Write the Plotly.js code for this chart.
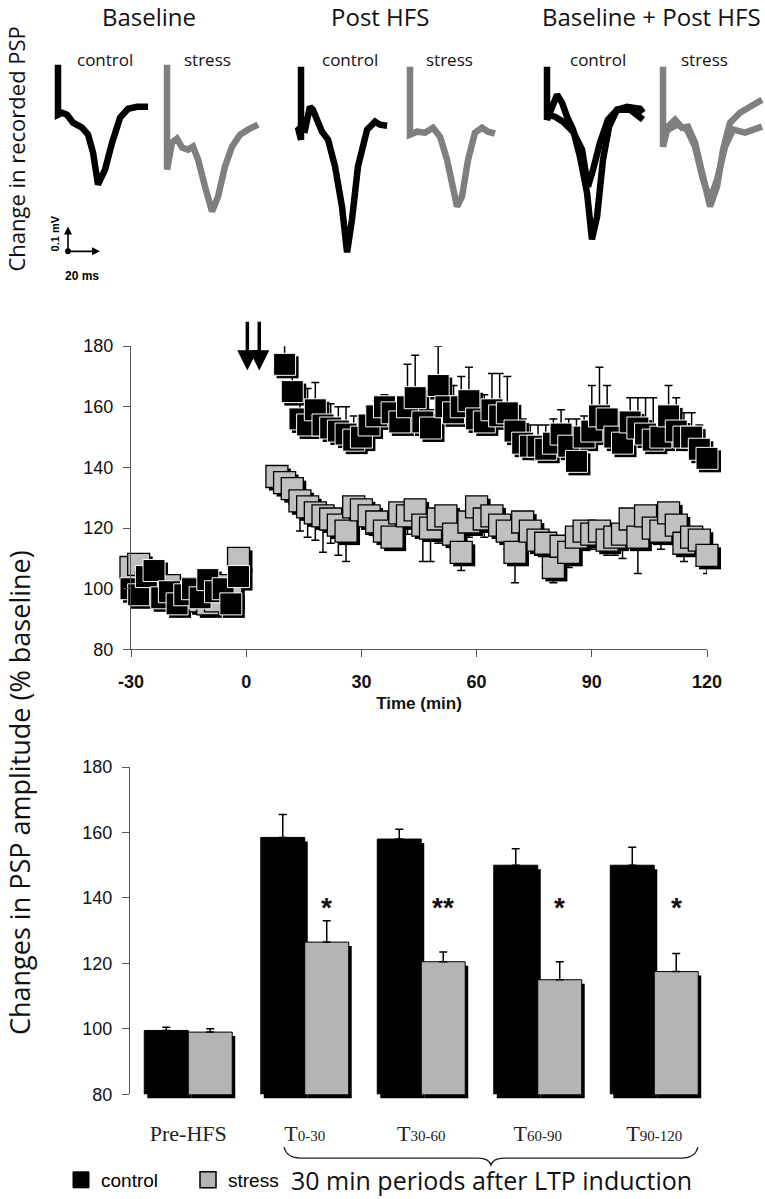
<!DOCTYPE html>
<html><head><meta charset="utf-8">
<script src="https://cdn.plot.ly/plotly-3.0.1.min.js"></script>
<style>html,body{margin:0;padding:0;background:#fff}#chart{width:765px;height:1199px}</style>
</head><body><div id="chart"></div>
<script>
// ================= DATA =================
// Time course (% baseline PSP amplitude)
const baseTime = [-30,-28,-26,-24,-22,-20,-18,-16,-14,-12,-10,-8,-6,-4,-2];
const controlBase = [100,98,104,106,97,99,95,98,100,97,103,99,100,95,104];
const controlBaseErr = [2,2,2,2,2,2,2,4,2,2,2,2,2,2,2];
const stressBase = [107,108,102,100,98,101,97,99,100,96,95,96,101,97,110];
const stressBaseErr = [2,2,2,2,2,2,2,2,2,2,2,2,2,2,2];

const controlPostTime = [10,12,14,16,18,20,22,24,26,28,30,32,34,36,38,40,42,44,46,48,50,52,54,56,58,60,62,64,66,68,70,72,74,76,78,80,82,84,86,88,90,92,94,96,98,100,102,104,106,108,110,112,114,116,118,120];
const controlPost = [174,165,156,154,159,154,153,152,151,149,150,154,157,160,158,155,160,163,155,153,167,160,158,160,162,156,155,159,157,158,152,148,147,147,146,148,151,147,142,150,152,157,156,150,148,155,153,151,149,150,157,152,150,150,146,143];
const controlPostErr = [10,5,8,12,9,7,8,8,9,8,6,6,5,4,5,6,14,14,9,6,13,8,9,10,11,8,9,12,14,12,7,8,7,7,8,8,8,9,14,7,15,16,11,6,8,8,10,12,14,6,10,11,8,8,8,5];

const stressPostTime = [8,10,12,14,16,18,20,22,24,26,28,30,32,34,36,38,40,42,44,46,48,50,52,54,56,58,60,62,64,66,68,70,72,74,76,78,80,82,84,86,88,90,92,94,96,98,100,102,104,106,108,110,112,114,116,118,120];
const stressPost = [137,135,133,129,127,125,124,123,121,119,127,126,124,122,119,117,125,124,126,121,120,123,124,118,112,122,127,123,124,121,119,112,122,119,116,115,107,114,112,117,119,118,119,116,117,118,123,117,124,120,119,125,121,115,117,116,111];
const stressPostErr = [3,4,5,10,10,9,12,8,10,10,5,5,6,5,4,4,5,6,8,12,11,8,6,5,6,5,5,6,5,5,6,10,5,5,5,8,5,4,5,6,5,5,6,5,6,8,5,12,5,5,6,4,5,6,5,5,6];

const hfsTimes = [0.3, 3.4];

// 30-min period means
const periods = ['Pre-HFS','T0-30','T30-60','T60-90','T90-120'];
const periodLabels = ['Pre-HFS','T<span style="font-size:15px">0-30</span>','T<span style="font-size:15px">30-60</span>','T<span style="font-size:15px">60-90</span>','T<span style="font-size:15px">90-120</span>'];
const controlMean = [99.5,158.5,158,150,150];
const controlSem = [1,7,3,5,5.5];
const stressMean = [99,126.5,120.5,115,117.5];
const stressSem = [1,6.5,3,5.5,5.5];
const significance = ['','*','**','*','*'];

// Recorded PSP traces (time ms, voltage mV)
const baseCtrlT = [5,5,7.5,10.6,14.4,20,23.8,26.9,30,34.4,38.8,43.8,48.8,54.4,61.3];
const baseCtrlV = [0.08,-0.12,-0.112,-0.12,-0.152,-0.172,-0.2,-0.272,-0.4,-0.34,-0.232,-0.132,-0.096,-0.088,-0.088];
const baseStressT = [4.4,4.4,7.5,10.6,13.8,17.5,20.6,23.8,28.1,32.5,36.3,40.6,45,50,55,61.3];
const baseStressV = [0.08,-0.34,-0.232,-0.216,-0.252,-0.26,-0.248,-0.3,-0.408,-0.508,-0.448,-0.328,-0.248,-0.2,-0.18,-0.16];
const postCtrlT = [5,5,3.1,7.5,10.6,12.5,15,18.1,21.9,26.3,30.6,33.8,36.9,40.6,46.3,51.3,54.4,58.8];
const postCtrlV = [0.072,-0.22,-0.172,-0.18,-0.088,-0.1,-0.14,-0.188,-0.22,-0.328,-0.488,-0.672,-0.54,-0.328,-0.18,-0.148,-0.16,-0.164];
const postStressT = [5,5,9.4,14.4,19.4,23.8,28.1,31.9,34.4,37.5,41.3,45.6,50,53.8,58.1];
const postStressV = [0.072,-0.2,-0.188,-0.192,-0.172,-0.208,-0.3,-0.432,-0.488,-0.448,-0.3,-0.192,-0.172,-0.188,-0.196];
const bpCtrlPostT = [5,5,11.3,14.4,17.5,21.3,25.6,30,33.1,36.3,40,43.8,48.8,55,63.1,65];
const bpCtrlPostV = [0.072,-0.14,-0.04,-0.072,-0.128,-0.18,-0.288,-0.432,-0.62,-0.528,-0.3,-0.168,-0.1,-0.088,-0.096,-0.112];
const bpCtrlBaseT = [5,10,15,21.3,26.9,30.6,33.8,38.1,43.1,48.8,56.9,65];
const bpCtrlBaseV = [-0.12,-0.128,-0.148,-0.188,-0.26,-0.408,-0.34,-0.232,-0.14,-0.1,-0.1,-0.14];
const bpStressPostT = [5,5,8.1,12.5,16.9,20.6,25,30,34.4,38.8,42.5,46.9,53.1,59.4,66.9];
const bpStressPostV = [0.072,-0.248,-0.168,-0.14,-0.172,-0.168,-0.232,-0.368,-0.488,-0.408,-0.26,-0.152,-0.112,-0.088,-0.06];
const bpStressBaseT = [5,8.1,13.8,20,25,30,34.4,38.8,43.8,48.8,56.3,66.9];
const bpStressBaseV = [-0.2,-0.18,-0.16,-0.18,-0.248,-0.38,-0.46,-0.38,-0.248,-0.18,-0.192,-0.168];
const scaleMs = 20, scaleMv = 0.1;
const scaleOriginT = 11.25, scaleOriginV = -0.668;

// ================= LAYOUT HELPERS =================
const W = 765, H = 1199;
const fx = p => p / W;
const fy = p => 1 - p / H;
const zeros = a => a.map(() => 0);
const SANS = 'Liberation Sans, Arial, sans-serif';
const MYR = 'Open Sans, Noto Sans, sans-serif';
const BLACK = '#000000', GREY_SQ = '#c0c0c0', GREY_BAR = '#b4b4b4', GREY_LINE = '#7f7f7f';

const ctrlT = baseTime.concat(controlPostTime);
const ctrlV = controlBase.concat(controlPost);
const ctrlE = controlBaseErr.concat(controlPostErr);
const strT = baseTime.concat(stressPostTime);
const strV = stressBase.concat(stressPost);
const strE = stressBaseErr.concat(stressPostErr);

const data = [];
const MS = 22;
// --- time course shadows (xy) ---
data.push({type:'scatter', mode:'markers', x:strT, y:strV, xaxis:'x', yaxis:'y', cliponaxis:false, showlegend:false, hoverinfo:'skip',
  marker:{symbol:'square', size:MS, color:BLACK, line:{width:0}}});
data.push({type:'scatter', mode:'markers', x:ctrlT, y:ctrlV, xaxis:'x', yaxis:'y', cliponaxis:false, showlegend:false, hoverinfo:'skip',
  marker:{symbol:'square', size:MS, color:BLACK, line:{width:0}}});
// --- time course main (x2y2) ---
data.push({type:'scatter', mode:'markers', name:'stress', x:strT, y:strV, xaxis:'x2', yaxis:'y2', cliponaxis:false, showlegend:false,
  marker:{symbol:'square', size:MS, color:GREY_SQ, line:{color:BLACK, width:1.3}},
  error_y:{type:'data', symmetric:false, array:zeros(strE), arrayminus:strE, color:BLACK, thickness:1.5, width:4}});
data.push({type:'scatter', mode:'markers', name:'control', x:ctrlT, y:ctrlV, xaxis:'x2', yaxis:'y2', cliponaxis:false, showlegend:false,
  marker:{symbol:'square', size:MS, color:BLACK, line:{color:'#ffffff', width:1}},
  error_y:{type:'data', symmetric:false, array:ctrlE, arrayminus:zeros(ctrlE), color:BLACK, thickness:1.5, width:4}});

// --- bar shadows (x3y3) ---
data.push({type:'bar', x:periods, y:controlMean, xaxis:'x3', yaxis:'y3', showlegend:false, hoverinfo:'skip', marker:{color:BLACK}});
data.push({type:'bar', x:periods, y:stressMean, xaxis:'x3', yaxis:'y3', showlegend:false, hoverinfo:'skip', marker:{color:BLACK}});
// --- bars main (x4y4) ---
data.push({type:'bar', name:'control', x:periods, y:controlMean, xaxis:'x4', yaxis:'y4', showlegend:false,
  marker:{color:BLACK, line:{color:BLACK, width:1}},
  error_y:{type:'data', symmetric:false, array:controlSem, arrayminus:zeros(controlSem), color:BLACK, thickness:1.5, width:4}});
data.push({type:'bar', name:'stress', x:periods, y:stressMean, xaxis:'x4', yaxis:'y4', showlegend:false,
  marker:{color:GREY_BAR, line:{color:BLACK, width:1}},
  error_y:{type:'data', symmetric:false, array:stressSem, arrayminus:zeros(stressSem), color:BLACK, thickness:1.5, width:4}});
// legend entries
data.push({type:'scatter', mode:'markers', name:'control', x:[null], y:[null], xaxis:'x4', yaxis:'y4', showlegend:true,
  marker:{symbol:'square', size:16, color:BLACK, line:{color:BLACK, width:1}}});
data.push({type:'scatter', mode:'markers', name:'stress', x:[null], y:[null], xaxis:'x4', yaxis:'y4', showlegend:true,
  marker:{symbol:'square', size:16, color:GREY_BAR, line:{color:BLACK, width:1.5}}});

// --- PSP panels ---
const panels = [
  {left:50,  traces:[[baseCtrlT, baseCtrlV, BLACK]], label:'control'},
  {left:160, traces:[[baseStressT, baseStressV, GREY_LINE]], label:'stress'},
  {left:293, traces:[[postCtrlT, postCtrlV, BLACK]], label:'control'},
  {left:402, traces:[[postStressT, postStressV, GREY_LINE]], label:'stress'},
  {left:539, traces:[[bpCtrlBaseT, bpCtrlBaseV, BLACK],[bpCtrlPostT, bpCtrlPostV, BLACK]], label:'control'},
  {left:655, traces:[[bpStressBaseT, bpStressBaseV, GREY_LINE],[bpStressPostT, bpStressPostV, GREY_LINE]], label:'stress'}
];
const PX_PER_MS = 1.6, PANEL_RANGE_X = [0, 68], PANEL_RANGE_Y = [-0.72, 0.1];
const panelTop = 60, panelBottom = 265;

const layout = {
  width: W, height: H,
  margin:{l:0, r:0, t:0, b:0, pad:0},
  paper_bgcolor:'#ffffff', plot_bgcolor:'rgba(0,0,0,0)',
  barmode:'group', bargap:0.245, bargroupgap:0,
  showlegend:true,
  legend:{orientation:'h', x:fx(61), y:fy(1183), xanchor:'left', yanchor:'middle',
    font:{family:SANS, size:19, color:BLACK}, itemwidth:30, bgcolor:'rgba(0,0,0,0)', borderwidth:0, entrywidth:82, entrywidthmode:'pixels'},
  annotations: [], shapes: []
};

// middle chart axes
const midX = [131, 707], midY = [347, 651];
const shd = 3;
layout.xaxis = {domain:[fx(midX[0]+shd), fx(midX[1]+shd)], range:[-30,120], visible:false, fixedrange:true};
layout.yaxis = {domain:[fy(midY[1]+shd), fy(midY[0]+shd)], range:[80,180], visible:false, fixedrange:true};
layout.xaxis2 = {domain:[fx(midX[0]), fx(midX[1])], range:[-30,120], anchor:'y2',
  tickvals:[-30,0,30,60,90,120], ticktext:['-30','0','30','60','90','120'], ticks:'outside', ticklen:7, tickwidth:1, tickcolor:'#555',
  showline:true, linecolor:'#555', linewidth:1, zeroline:false, showgrid:false, ticklabelstandoff:9,
  tickfont:{family:SANS, size:18, color:'#111', weight:'bold'},
  title:{text:'Time (min)', font:{family:SANS, size:17, color:'#111', weight:'bold'}, standoff:6}};
layout.yaxis2 = {domain:[fy(midY[1]), fy(midY[0])], range:[80,180], anchor:'x2',
  tickvals:[80,100,120,140,160,180], ticks:'outside', ticklen:7, tickwidth:1, tickcolor:'#555',
  showline:true, linecolor:'#555', linewidth:1, zeroline:false, showgrid:false, ticklabelstandoff:6,
  tickfont:{family:SANS, size:18, color:'#111'}};

// bar chart axes
const barX = [130, 712.5], barY = [769, 1097];
layout.xaxis3 = {domain:[fx(barX[0]+3), fx(barX[1]+3)], type:'category', range:[-0.5,4.5], visible:false, fixedrange:true, anchor:'y3'};
layout.yaxis3 = {domain:[fy(barY[1]+4), fy(barY[0]+4)], range:[80,180], visible:false, fixedrange:true, anchor:'x3'};
layout.xaxis4 = {domain:[fx(barX[0]), fx(barX[1])], type:'category', range:[-0.5,4.5], anchor:'y4',
  tickvals:periods, ticktext:periodLabels, ticks:'', showline:false, zeroline:false, showgrid:false, ticklabelstandoff:24,
  tickfont:{family:'Liberation Serif, Times New Roman, serif', size:22, color:'#222'}};
layout.yaxis4 = {domain:[fy(barY[1]), fy(barY[0])], range:[80,180], anchor:'x4',
  tickvals:[80,100,120,140,160,180], ticks:'outside', ticklen:7, tickwidth:1, tickcolor:'#555',
  showline:true, linecolor:'#555', linewidth:1, zeroline:false, showgrid:false, ticklabelstandoff:6,
  tickfont:{family:SANS, size:18, color:'#111'}};

// PSP panels
panels.forEach((p, i) => {
  const n = 5 + i;
  const xa = 'x' + n, ya = 'y' + n;
  layout['xaxis' + n] = {domain:[fx(p.left), fx(p.left + (PANEL_RANGE_X[1]-PANEL_RANGE_X[0]) * PX_PER_MS)], range:PANEL_RANGE_X, visible:false, fixedrange:true, anchor:ya};
  layout['yaxis' + n] = {domain:[fy(panelBottom), fy(panelTop)], range:PANEL_RANGE_Y, visible:false, fixedrange:true, anchor:xa};
  p.traces.forEach(tr => {
    data.push({type:'scatter', mode:'lines', x:tr[0], y:tr[1], xaxis:xa, yaxis:ya, showlegend:false, hoverinfo:'skip', cliponaxis:false,
      line:{color:tr[2], width:6.5}});
  });
});

// scale bar (on first panel axes)
data.push({type:'scatter', mode:'markers', x:[scaleOriginT], y:[scaleOriginV], xaxis:'x5', yaxis:'y5', showlegend:false, hoverinfo:'skip', cliponaxis:false,
  marker:{size:6, color:BLACK}});
const A = layout.annotations;
A.push({xref:'x5', yref:'y5', axref:'x5', ayref:'y5', x:scaleOriginT, y:scaleOriginV + scaleMv, ax:scaleOriginT, ay:scaleOriginV,
  text:'', showarrow:true, arrowhead:2, arrowsize:1, arrowwidth:1.6, arrowcolor:BLACK});
A.push({xref:'x5', yref:'y5', axref:'x5', ayref:'y5', x:scaleOriginT + scaleMs, y:scaleOriginV, ax:scaleOriginT, ay:scaleOriginV,
  text:'', showarrow:true, arrowhead:2, arrowsize:1, arrowwidth:1.6, arrowcolor:BLACK});
A.push({xref:'paper', yref:'paper', x:fx(55), y:fy(234), text:'<b>' + scaleMv + ' mV</b>', textangle:-90, showarrow:false,
  font:{family:SANS, size:11, color:BLACK}, xanchor:'center', yanchor:'middle'});
A.push({xref:'paper', yref:'paper', x:fx(82), y:fy(277), text:'<b>' + scaleMs + ' ms</b>', showarrow:false,
  font:{family:SANS, size:12, color:BLACK}, xanchor:'center', yanchor:'middle'});

// panel titles and labels
[['Baseline',149],['Post HFS',380],['Baseline + Post HFS',651]].forEach(t => {
  A.push({xref:'paper', yref:'paper', x:fx(t[1]), y:fy(17), text:t[0], showarrow:false, xanchor:'center', yanchor:'middle',
    font:{family:MYR, size:24, color:'#111'}});
});
const labelX = [105, 207, 350, 449, 598, 704];
panels.forEach((p, i) => {
  A.push({xref:'paper', yref:'paper', x:fx(labelX[i]), y:fy(60), text:p.label, showarrow:false, xanchor:'center', yanchor:'middle',
    font:{family:MYR, size:17, color:'#111'}});
});

// left labels
A.push({xref:'paper', yref:'paper', x:fx(16), y:fy(150), text:'Change in recorded PSP', textangle:-90, showarrow:false,
  xanchor:'center', yanchor:'middle', font:{family:MYR, size:22, color:'#111'}});
A.push({xref:'paper', yref:'paper', x:fx(19), y:fy(795), text:'Changes in PSP amplitude (% baseline)', textangle:-90, showarrow:false,
  xanchor:'center', yanchor:'middle', font:{family:MYR, size:27, color:'#111'}});

// HFS arrows
hfsTimes.forEach(t => {
  A.push({xref:'x2', yref:'y2', axref:'x2', ayref:'y2', x:t, y:172, ax:t, ay:188.5, text:'', showarrow:true,
    arrowhead:2, arrowsize:1.15, arrowwidth:3.5, arrowcolor:BLACK});
});

// significance stars
const starOffset = (1 - layout.bargap) / 4;
significance.forEach((s, i) => {
  if (!s) return;
  A.push({xref:'x4', yref:'y4', x:i + starOffset, y:137, text:'<b>' + s + '</b>', showarrow:false,
    xanchor:'center', yanchor:'middle', font:{family:SANS, size:28, color:'#111'}});
});

// bottom caption
A.push({xref:'paper', yref:'paper', x:fx(491), y:fy(1183), text:'30 min periods after LTP induction', showarrow:false,
  xanchor:'center', yanchor:'middle', font:{family:MYR, size:25, color:'#111'}});

// brace under post-HFS periods
const bp = [[284,1150],[287,1161],[300,1161],[478,1161],[489,1161],[491,1168],[493,1161],[504,1161],[682,1161],[695,1161],[698,1150]];
const P = i => fx(bp[i][0]).toFixed(5) + ',' + fy(bp[i][1]).toFixed(5);
layout.shapes.push({type:'path', xref:'paper', yref:'paper',
  path:'M' + P(0) + ' Q' + P(1) + ' ' + P(2) + ' L' + P(3) + ' Q' + P(4) + ' ' + P(5) + ' Q' + P(6) + ' ' + P(7) + ' L' + P(8) + ' Q' + P(9) + ' ' + P(10),
  line:{color:'#222', width:1.3}});

Plotly.newPlot('chart', data, layout, {staticPlot:true, displayModeBar:false});
</script>
</body></html>
